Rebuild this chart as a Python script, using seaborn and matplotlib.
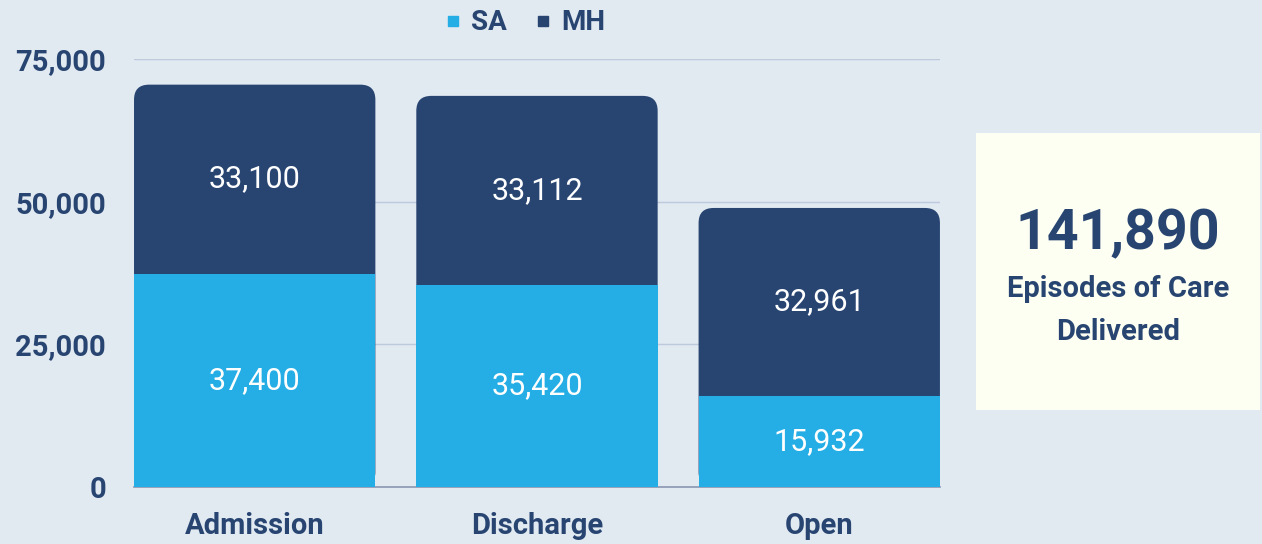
"""Stacked episodes-of-care bars with a summary box."""

import matplotlib.pyplot as plt
import pandas as pd
import seaborn as sns
from matplotlib.lines import Line2D
from matplotlib.patches import FancyBboxPatch
from matplotlib.ticker import FuncFormatter

CATEGORIES = ["Admission", "Discharge", "Open"]
SA_VALUES = [37400, 35420, 15932]
MH_VALUES = [33100, 33112, 32961]
TOTAL_LABEL = "141,890"
BOX_CAPTION = "Episodes of Care\nDelivered"
Y_TICKS = [0, 25000, 50000, 75000]

BG = "#E1E9F1"
NAVY = "#284572"
SKY = "#25AEE5"
BOX = "#FDFFF2"
GRID = "#BCCADB"

BAR_WIDTH = 0.855
CORNER_PX = 15

sns.set_theme(style="white")
plt.rcParams["font.family"] = ["Roboto", "DejaVu Sans"]

df = pd.DataFrame({"category": CATEGORIES, "SA": SA_VALUES, "MH": MH_VALUES})
df["total"] = df["SA"] + df["MH"]

fig = plt.figure(figsize=(12.62, 5.44), dpi=100, facecolor=BG)
ax = fig.add_axes([0.1062, 0.1048, 0.6386, 0.7868])
ax.set_facecolor(BG)

# MH drawn as the full stack, SA laid over its lower part
sns.barplot(data=df, x="category", y="total", color=NAVY, width=BAR_WIDTH,
            saturation=1, linewidth=0, ax=ax, zorder=2)
sns.barplot(data=df, x="category", y="SA", color=SKY, width=BAR_WIDTH,
            saturation=1, linewidth=0, ax=ax, zorder=3)

ax.set_xlim(-BAR_WIDTH / 2, len(CATEGORIES) - 1 + BAR_WIDTH / 2)
ax.set_ylim(0, Y_TICKS[-1])

# round the top corners of the stacks
ax_w_px = ax.get_position().width * fig.get_figwidth() * fig.dpi
ax_h_px = ax.get_position().height * fig.get_figheight() * fig.dpi
x_per_px = (ax.get_xlim()[1] - ax.get_xlim()[0]) / ax_w_px
y_per_px = (ax.get_ylim()[1] - ax.get_ylim()[0]) / ax_h_px
for patch in list(ax.patches[: len(CATEGORIES)]):
    rounded = FancyBboxPatch(
        (patch.get_x(), patch.get_y()), patch.get_width(), patch.get_height(),
        boxstyle=f"round,pad=0,rounding_size={CORNER_PX * x_per_px}",
        mutation_aspect=y_per_px / x_per_px,
        facecolor=NAVY, edgecolor="none", linewidth=0, zorder=2,
    )
    patch.remove()
    ax.add_patch(rounded)

for i, (sa, mh) in enumerate(zip(SA_VALUES, MH_VALUES)):
    ax.text(i, sa / 2, f"{sa:,}", ha="center", va="center",
            color="white", fontsize=22, zorder=4)
    ax.text(i, sa + mh / 2, f"{mh:,}", ha="center", va="center",
            color="white", fontsize=22, zorder=4)

ax.set_yticks(Y_TICKS)
ax.yaxis.set_major_formatter(FuncFormatter(lambda v, _: f"{int(v):,}"))
ax.yaxis.grid(True, color=GRID, linewidth=1)
ax.set_axisbelow(True)
ax.set_xlabel("")
ax.set_ylabel("")
for side in ["top", "right", "left"]:
    ax.spines[side].set_visible(False)
ax.spines["bottom"].set_color("#8C9AB3")
ax.tick_params(axis="y", length=0, pad=20, labelsize=21, labelcolor=NAVY)
ax.tick_params(axis="x", length=0, pad=18, labelsize=21, labelcolor=NAVY)
for label in ax.get_xticklabels() + ax.get_yticklabels():
    label.set_fontweight("bold")

handles = [
    Line2D([], [], marker="s", linestyle="none", color=SKY, markersize=7, label="SA"),
    Line2D([], [], marker="s", linestyle="none", color=NAVY, markersize=7, label="MH"),
]
fig.legend(handles=handles, loc="center", bbox_to_anchor=(0.415, 0.958), ncol=2,
           frameon=False, handletextpad=0.25, columnspacing=0.9, handlelength=0.8,
           prop={"weight": "bold", "size": 20}, labelcolor=NAVY)

box = fig.add_axes([0.7734, 0.246, 0.225, 0.509])
box.set_facecolor(BOX)
box.set_xticks([])
box.set_yticks([])
for spine in box.spines.values():
    spine.set_visible(False)
box.text(0.5, 0.635, TOTAL_LABEL, ha="center", va="center", color=NAVY,
         fontsize=40, fontweight="bold")
box.text(0.5, 0.36, BOX_CAPTION, ha="center", va="center", color=NAVY,
         fontsize=21, fontweight="bold", linespacing=1.65)

fig.savefig("out.png", dpi=100, facecolor=BG)
